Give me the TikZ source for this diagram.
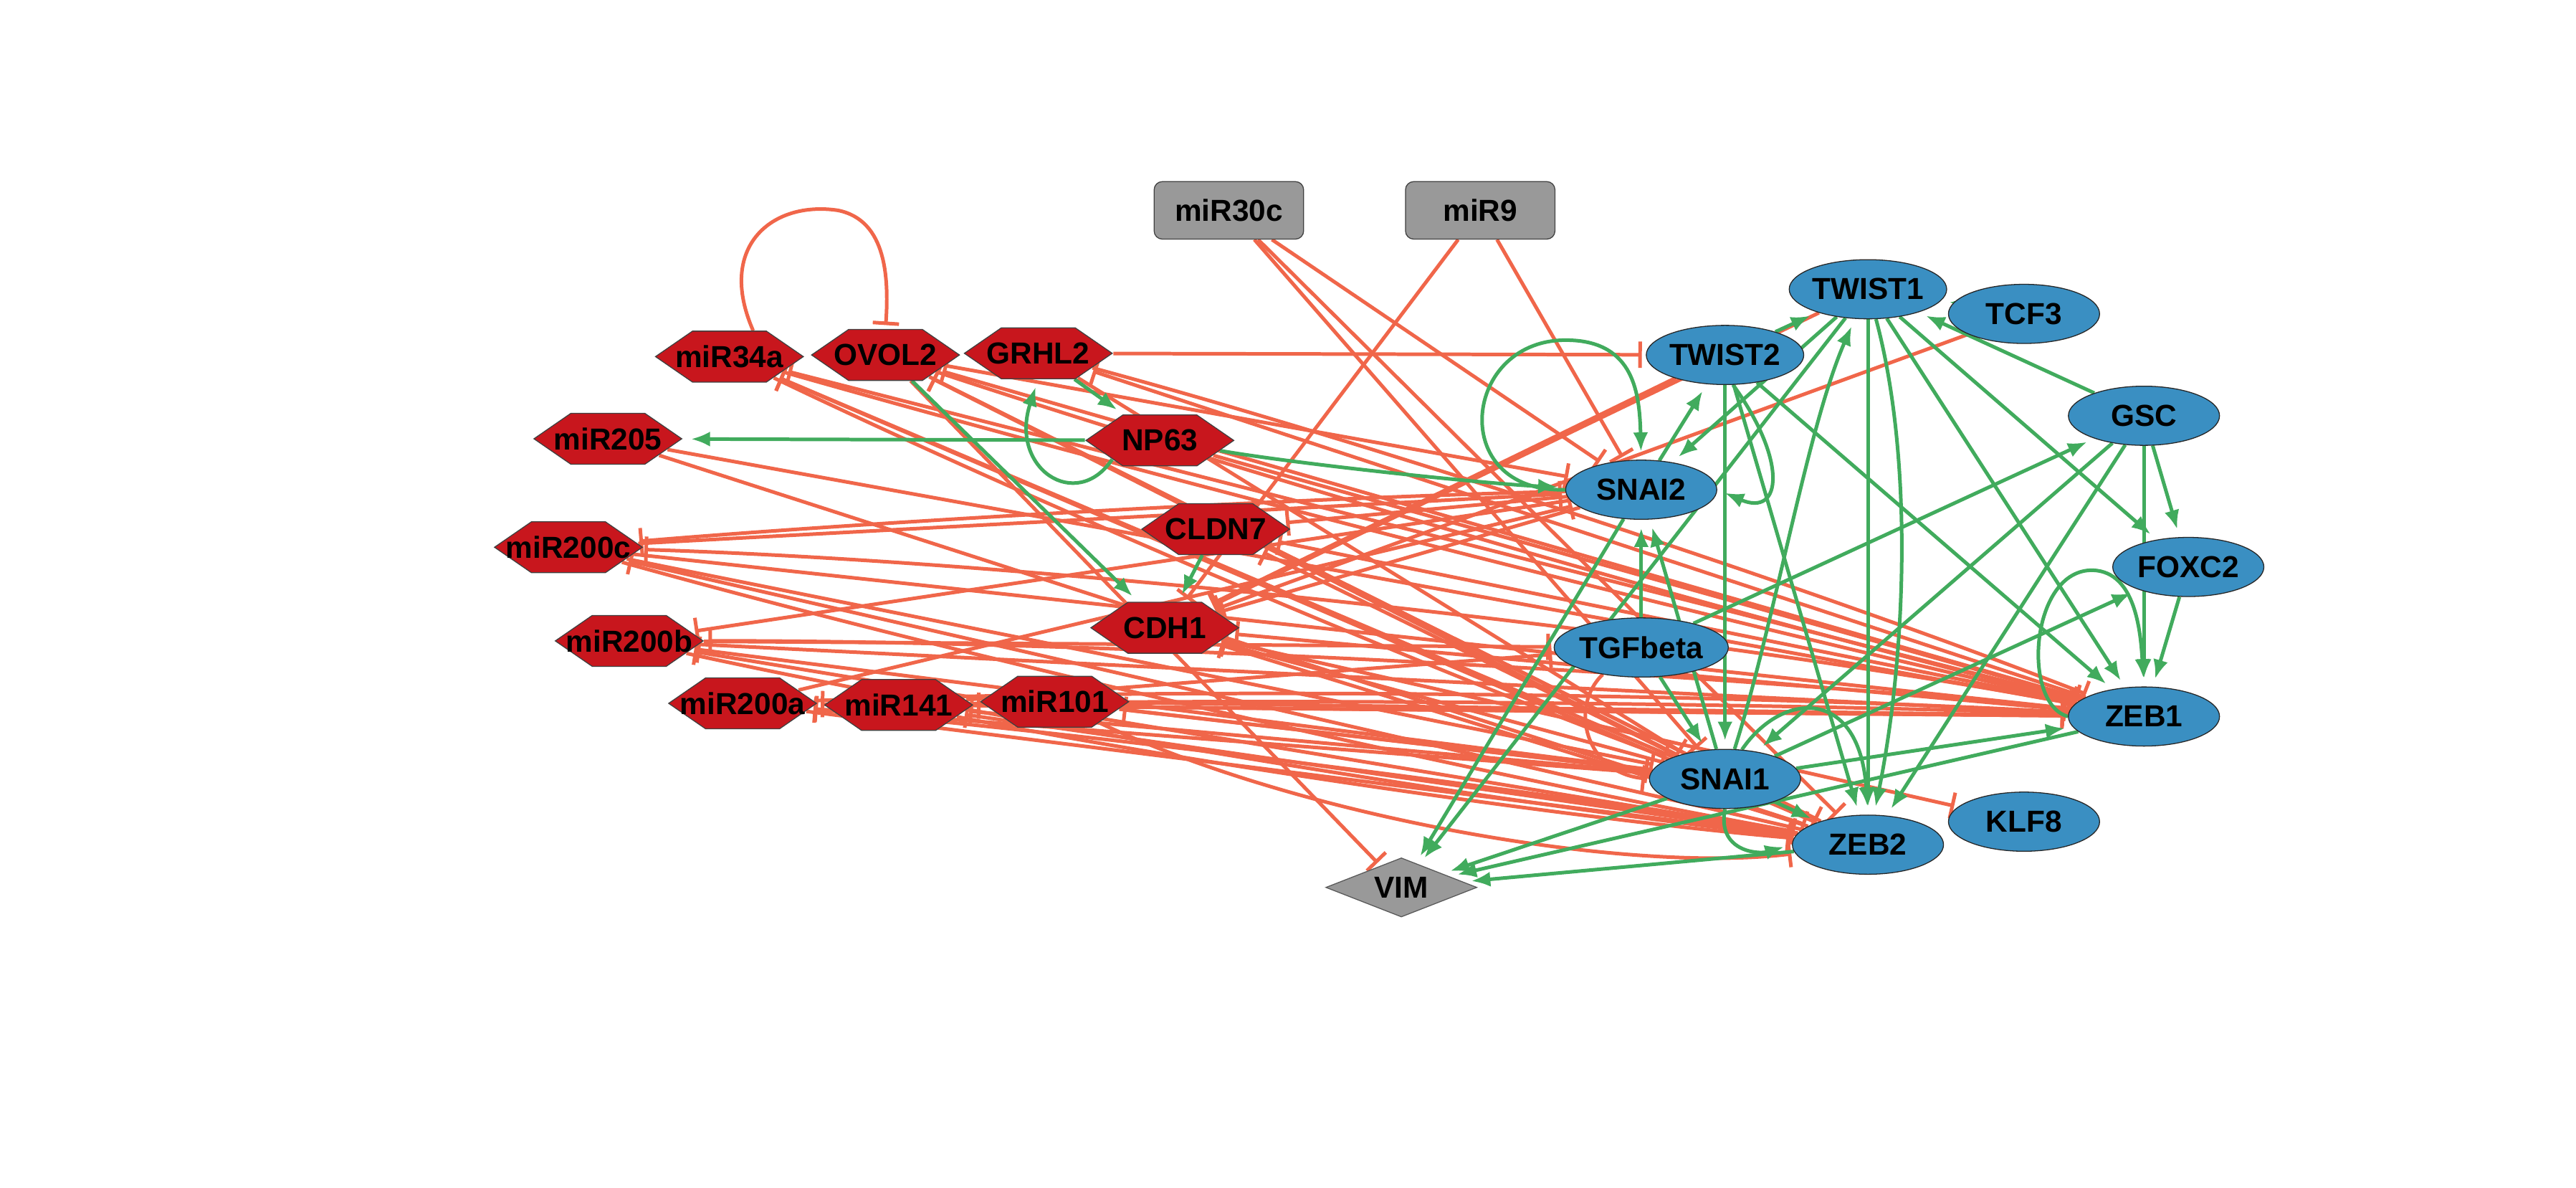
\documentclass[tikz,border=0pt]{standalone}
\usepackage{fontspec}
\setmainfont{Liberation Sans}
\usetikzlibrary{shapes.geometric,arrows.meta,backgrounds,calc}
\definecolor{hexred}{HTML}{C8161D}
\definecolor{nodeblue}{HTML}{3A8FC2}
\definecolor{nodegrey}{HTML}{999999}
\definecolor{redE}{HTML}{F0664A}
\definecolor{greenE}{HTML}{41AB5D}
\newcommand\hexat[4]{%
  \begin{scope}[shift={(#2,#3)}]
    \node[hexshape, xscale=2.514, transform shape] (#1) at (0,0) {};
  \end{scope}
  \node[lbl] (#1-t) at (#2,#3) {#4};}
% curved connector: style, from, to, vertical offset of the control points
\newcommand\curv[4]{\draw[#1] (#2) .. controls ($(#2)!0.3!(#3)+(0,#4)$) and ($(#2)!0.7!(#3)+(0,#4)$) .. (#3);}
\begin{document}
\begin{tikzpicture}[x=0.05cm,y=-0.05cm,
  lbl/.style={font=\bfseries\fontsize{26.3}{28}\selectfont, text=black, inner sep=0pt},
  hexshape/.style={regular polygon, regular polygon sides=6, fill=hexred, draw=black!75, line width=0.8pt, minimum size=1.79cm, inner sep=0pt},
  elln/.style={lbl, ellipse, fill=nodeblue, draw=black!85, line width=0.8pt, minimum width=4.6cm, minimum height=1.8cm},
  grect/.style={lbl, rectangle, rounded corners=0.25cm, fill=nodegrey, draw=black!75, line width=0.8pt, minimum width=4.55cm, minimum height=1.75cm},
  gdiam/.style={lbl, diamond, aspect=2.55, fill=nodegrey, draw=black!65, line width=0.8pt, minimum width=4.6cm, minimum height=1.8cm},
  ed/.style={line width=3.1pt},
  inh/.style={ed, draw=redE, -{Bar[width=0.8cm]}, shorten >=0.12cm},
  act/.style={ed, draw=greenE, -{Latex[length=0.58cm,width=0.46cm]}, shorten >=0.25cm}
]
\useasboundingbox (0,0) rectangle (1568,722.5);
% nodes
\node[grect] (miR30c) at (748,128) {miR30c};
\node[grect] (miR9) at (901,128) {miR9};
\hexat{miR34a}{444}{217}{miR34a}
\hexat{OVOL2}{539}{216}{OVOL2}
\hexat{GRHL2}{632}{215}{GRHL2}
\hexat{miR205}{370}{267}{miR205}
\hexat{NP63}{706}{268}{NP63}
\hexat{CLDN7}{740}{322}{CLDN7}
\hexat{miR200c}{346}{333}{miR200c}
\hexat{CDH1}{709}{382}{CDH1}
\hexat{miR200b}{383}{390}{miR200b}
\hexat{miR200a}{452}{428}{miR200a}
\hexat{miR141}{547}{429}{miR141}
\hexat{miR101}{642}{427}{miR101}
\node[gdiam] (VIM) at (853,540) {VIM};
\node[elln] (TWIST1) at (1137,176) {TWIST1};
\node[elln] (TCF3) at (1232,191) {TCF3};
\node[elln] (TWIST2) at (1050,216) {TWIST2};
\node[elln] (GSC) at (1305,253) {GSC};
\node[elln] (SNAI2) at (999,298) {SNAI2};
\node[elln] (FOXC2) at (1332,345) {FOXC2};
\node[elln] (TGFbeta) at (999,394) {TGFbeta};
\node[elln] (ZEB1) at (1305,436) {ZEB1};
\node[elln] (SNAI1) at (1050,474) {SNAI1};
\node[elln] (ZEB2) at (1137,514) {ZEB2};
\node[elln] (KLF8) at (1232,500) {KLF8};
\begin{pgfonlayer}{background}
% ---------- inhibitions ----------
\draw[inh] (miR34a.70) .. controls (436,150) and (470,122) .. (510,128) .. controls (540,134) and (541,170) .. (OVOL2.north);
\draw[inh] (GRHL2) -- (TWIST2);
\curv{inh}{ZEB1}{miR200c}{-22}
\draw[inh] (miR200c) -- (ZEB1);
\curv{inh}{ZEB1}{miR200b}{-14}
\draw[inh] (miR200b) -- (ZEB1);
\draw[inh] (ZEB1) -- (miR200a);
\curv{inh}{miR200a}{ZEB1}{-12}
\draw[inh] (ZEB1) -- (miR141);
\curv{inh}{miR141}{ZEB1}{-6}
\draw[inh] (miR101) -- (ZEB1);
\draw[inh] (ZEB1) -- (miR34a);
\draw[inh] (ZEB1) -- (OVOL2);
\curv{inh}{OVOL2}{ZEB1}{10}
\draw[inh] (ZEB1) -- (GRHL2);
\curv{inh}{GRHL2}{ZEB1}{-12}
\draw[inh] (ZEB1) -- (CDH1);
\draw[inh] (ZEB1) -- (CLDN7);
\draw[inh] (miR205) -- (ZEB1);
\draw[inh] (NP63) -- (ZEB1);
\curv{inh}{miR34a}{ZEB1}{8}
\draw[inh] (ZEB2) -- (miR200c);
\curv{inh}{miR200c}{ZEB2}{12}
\draw[inh] (ZEB2) -- (miR200b);
\curv{inh}{miR200b}{ZEB2}{12}
\draw[inh] (miR200a) -- (ZEB2);
\curv{inh}{ZEB2}{miR200a}{-8}
\draw[inh] (ZEB2) -- (miR141);
\curv{inh}{miR141}{ZEB2}{10}
\curv{inh}{miR101}{ZEB2}{44}
\draw[inh] (miR205) -- (ZEB2);
\draw[inh] (ZEB2) -- (CDH1);
\draw[inh] (ZEB2) -- (miR34a);
\draw[inh] (OVOL2) -- (ZEB2);
\draw[inh] (ZEB2) -- (OVOL2);
\draw[inh] (miR30c) -- (ZEB2);
\draw[inh] (SNAI1) -- (CDH1);
\draw[inh] (SNAI1) -- (miR34a);
\curv{inh}{miR34a}{SNAI1}{10}
\draw[inh] (SNAI1) -- (miR200b);
\draw[inh] (SNAI1) -- (miR200a);
\draw[inh] (SNAI1) -- (miR141);
\draw[inh] (SNAI1) -- (OVOL2);
\draw[inh] (SNAI1) -- (CLDN7);
\draw[inh] (SNAI1) -- (miR101);
\draw[inh] (miR101) -- (SNAI1);
\draw[inh] (miR30c) -- (SNAI1);
\draw[inh] (miR200c) -- (SNAI1);
\draw[inh] (GRHL2) -- (SNAI1);
\draw[inh] (SNAI2) -- (CDH1);
\draw[inh] (SNAI2) -- (miR200b);
\curv{inh}{SNAI2}{miR200c}{-6}
\draw[inh] (SNAI2) -- (CLDN7);
\draw[inh] (miR200a) -- (SNAI2);
\draw[inh] (miR30c) -- (SNAI2);
\draw[inh] (miR9) -- (SNAI2);
\draw[inh] (miR9) -- (CDH1);
\draw[inh] (OVOL2) -- (SNAI2);
\draw[inh] (miR200c) -- (SNAI2);
\draw[inh, line width=4.8pt] (TWIST2) -- (CDH1);
\draw[inh] (TWIST1) -- (CDH1);
\draw[inh] (TCF3) -- (CDH1);
\draw[inh] (OVOL2) -- (VIM);
\draw[inh] (CDH1) -- (KLF8);
\draw[inh] (miR200b) -- (TGFbeta);
\draw[inh] (miR141) -- (TGFbeta);
\draw[inh] (TGFbeta.215) .. controls (955,430) and (965,470) .. (SNAI1.west);
% ---------- activations ----------
\draw[act] (GRHL2) -- (NP63);
\draw[act] (NP63.south west) .. controls (655,312) and (614,285) .. (GRHL2.south);
\draw[act] (NP63) -- (miR205);
\curv{act}{NP63}{SNAI2}{6}
\draw[act] (SNAI2.west) .. controls (880,300) and (890,205) .. (955,207) .. controls (995,208) and (998,240) .. (SNAI2.north);
\draw[act] (OVOL2) -- (CDH1);
\draw[act] (CLDN7) -- (CDH1);
\draw[act] (SNAI2) -- (VIM);
\draw[act] (TWIST1) -- (VIM);
\draw[act] (SNAI1) -- (VIM);
\draw[act] (ZEB1) -- (VIM);
\draw[act] (ZEB2) -- (VIM);
\draw[act] (TGFbeta) -- (SNAI2);
\draw[act] (SNAI1) -- (SNAI2);
\draw[act] (TGFbeta) -- (SNAI1);
\draw[act] (TGFbeta) -- (GSC);
\draw[act] (TWIST2) -- (SNAI1);
\draw[act] (TWIST2.285) .. controls (1088,280) and (1085,315) .. (SNAI2.east);
\draw[act] (SNAI2) -- (TWIST2);
\draw[act] (TWIST2) -- (TWIST1);
\draw[act] (TCF3) -- (TWIST1);
\draw[act] (GSC) -- (TWIST1);
\draw[act] (TWIST1) -- (SNAI2);
\draw[act] (SNAI1) .. controls (1080,380) and (1100,260) .. (TWIST1);
\draw[act] (TWIST1) -- (ZEB2);
\draw[act] (TWIST1) .. controls (1165,280) and (1160,400) .. (ZEB2);
\draw[act] (TWIST1) -- (ZEB1);
\draw[act] (TWIST1) -- (FOXC2);
\draw[act] (TWIST2) -- (ZEB1);
\draw[act] (TWIST2) -- (ZEB2);
\draw[act] (GSC) -- (FOXC2);
\draw[act] (GSC) -- (ZEB1);
\draw[act] (GSC) -- (SNAI1);
\draw[act] (GSC) -- (ZEB2);
\draw[act] (FOXC2) -- (ZEB1);
\draw[act] (SNAI1) -- (FOXC2);
\draw[act] (ZEB1.west) .. controls (1230,428) and (1236,346) .. (1274,347) .. controls (1300,348) and (1303,385) .. (ZEB1.north);
\draw[act] (SNAI1) -- (ZEB1);
\draw[act] (SNAI1) -- (ZEB2);
\draw[act] (SNAI1.60) .. controls (1085,420) and (1132,418) .. (ZEB2.north);
\draw[act] (SNAI1.south) .. controls (1045,518) and (1070,520) .. (ZEB2.west);
\end{pgfonlayer}
\end{tikzpicture}
\end{document}
